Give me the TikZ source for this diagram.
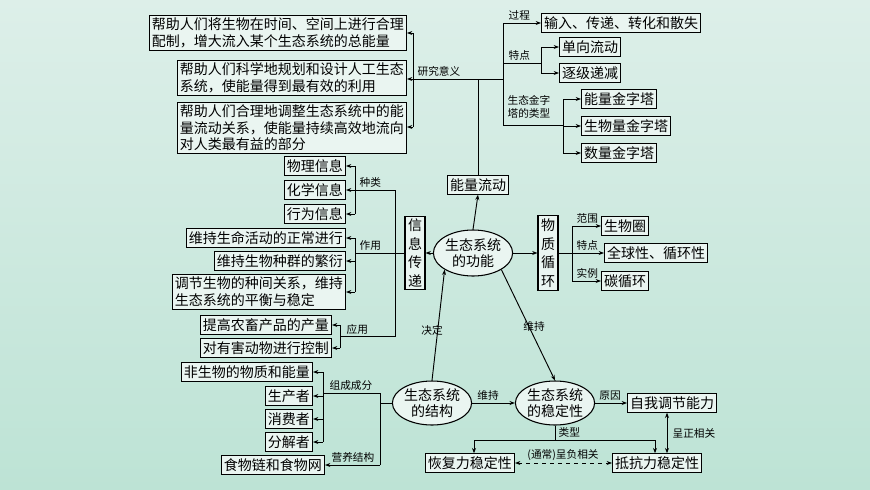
\documentclass[tikz,border=0pt]{standalone}
\usepackage{fontspec}
\setmainfont{Noto Sans CJK SC}
\usetikzlibrary{arrows.meta,shapes.geometric}
\definecolor{bgt}{HTML}{DDEFE9}
\definecolor{bgb}{HTML}{BDE3D5}
\definecolor{bx}{HTML}{EAF5F1}
\tikzset{
 bx/.style={draw,line width=0.8pt,fill=bx,inner sep=2pt,font=\fontsize{10.5}{12.5}\selectfont,align=left},
 vbx/.style={draw,line width=0.8pt,fill=bx,inner sep=2pt,font=\fontsize{10.5}{14}\selectfont,align=center,text width=11pt},
 ell/.style={draw,line width=0.8pt,ellipse,fill=bx,inner sep=0pt,font=\fontsize{10.5}{12.5}\selectfont,align=center},
 lab/.style={font=\fontsize{8}{9.5}\selectfont,inner sep=1pt,align=left},
 arr/.style={-{Stealth[length=4pt,width=3pt]},line width=0.7pt},
 darr/.style={{Stealth[length=4pt,width=3pt]}-{Stealth[length=4pt,width=3pt]},line width=0.7pt},
 ln/.style={line width=0.7pt},
}
\begin{document}
\begin{tikzpicture}[x=0.75pt,y=-0.75pt]
\shade[top color=bgt,bottom color=bgb] (0,0) rectangle (870,489);
\useasboundingbox (0,0) rectangle (870,489);
\node[bx,text width=189pt,anchor=east] (b1) at (407,33) {帮助人们将生物在时间、空间上进行合理\\配制，增大流入某个生态系统的总能量};
\node[bx,text width=168pt,anchor=east] (b2) at (407,78) {帮助人们科学地规划和设计人工生态\\系统，使能量得到最有效的利用};
\node[bx,text width=168pt,anchor=east] (b3) at (407,128) {帮助人们合理地调整生态系统中的能\\量流动关系，使能量持续高效地流向\\对人类最有益的部分};
\draw[ln] (413,33) -- (413,127);
\draw[arr] (413,33) -- (b1.east |- 413,33);
\draw[arr] (413,79) -- (b2.east |- 413,79);
\draw[arr] (413,127) -- (b3.east |- 413,127);
\draw[ln] (413,79) -- (503,79);
\node[lab,anchor=south west] at (416,78) {研究意义};
\node[bx] (ef) at (478,185) {能量流动};
\draw[ln] (478,79) -- (ef.north);
\draw[ln] (503,23) -- (503,125);
\node[bx,anchor=west] (p1) at (541,23) {输入、传递、转化和散失};
\node[bx,anchor=west] (t1) at (559,47) {单向流动};
\node[bx,anchor=west] (t2) at (559,73) {逐级递减};
\node[bx,anchor=west] (j1) at (581,99) {能量金字塔};
\node[bx,anchor=west] (j2) at (581,126) {生物量金字塔};
\node[bx,anchor=west] (j3) at (581,153) {数量金字塔};
\draw[arr] (503,23) -- (p1.west);
\node[lab,anchor=south west] at (507,22) {过程};
\draw[ln] (503,63) -- (541,63) (541,47) -- (541,73);
\node[lab,anchor=south west] at (507,62) {特点};
\draw[arr] (541,47) -- (t1.west);
\draw[arr] (541,73) -- (t2.west);
\draw[ln] (503,125) -- (563,125) (563,99) -- (563,153);
\node[lab,anchor=west] at (506,107) {生态金字\\塔的类型};
\draw[arr] (563,99) -- (j1.west);
\draw[arr] (563,126) -- (j2.west);
\draw[arr] (563,153) -- (j3.west);
\node[ell,minimum height=46*0.75pt,minimum width=66*0.75pt] (fn) at (473,253) {生态系统\\的功能};
\draw[arr] (fn.north) -- (ef.south);
\node[vbx] (xx) at (415,253) {信\\息\\传\\递};
\draw[arr] (fn.west) -- (xx.east);
\draw[ln] (xx.west) -- (355,253);
\node[lab,anchor=south west] at (358,252) {作用};
\draw[ln] (355,238) -- (355,292);
\node[bx,anchor=east] (z1) at (346,238) {维持生命活动的正常进行};
\node[bx,anchor=east] (z2) at (346,261) {维持生物种群的繁衍};
\node[bx,anchor=east] (z3) at (346,292) {调节生物的种间关系，维持\\生态系统的平衡与稳定};
\draw[arr] (355,238) -- (z1.east |- 355,238);
\draw[arr] (355,261) -- (z2.east |- 355,261);
\draw[arr] (355,292) -- (z3.east |- 355,292);
\draw[ln] (355,190) -- (395,190) -- (395,336) -- (340,336);
\draw[ln] (355,166) -- (355,214);
\node[lab,anchor=south west] at (358,189) {种类};
\node[bx,anchor=east] (s1) at (346,166) {物理信息};
\node[bx,anchor=east] (s2) at (346,190) {化学信息};
\node[bx,anchor=east] (s3) at (346,214) {行为信息};
\draw[arr] (355,166) -- (s1.east);
\draw[arr] (355,190) -- (s2.east);
\draw[arr] (355,214) -- (s3.east);
\draw[ln] (340,325) -- (340,348);
\node[lab,anchor=south west] at (345,336) {应用};
\node[bx,anchor=east] (y1) at (332,325) {提高农畜产品的产量};
\node[bx,anchor=east] (y2) at (332,348) {对有害动物进行控制};
\draw[arr] (340,325) -- (y1.east);
\draw[arr] (340,348) -- (y2.east);
\node[vbx] (wz) at (548,253) {物\\质\\循\\环};
\draw[arr] (fn.east) -- (wz.west);
\draw[ln] (wz.east) -- (572,253) (572,226) -- (572,281);
\node[bx,anchor=west] (m1) at (601,226) {生物圈};
\node[bx,anchor=west] (m2) at (604,253) {全球性、循环性};
\node[bx,anchor=west] (m3) at (601,281) {碳循环};
\draw[arr] (572,226) -- (m1.west);
\draw[arr] (572,253) -- (m2.west);
\draw[arr] (572,281) -- (m3.west);
\node[lab,anchor=south west] at (575,225) {范围};
\node[lab,anchor=south west] at (575,252) {特点};
\node[lab,anchor=south west] at (575,280) {实例};
\node[ell,minimum height=44*0.75pt,minimum width=72*0.75pt] (st) at (432,403) {生态系统\\的结构};
\node[ell,minimum height=44*0.75pt,minimum width=74*0.75pt] (wd) at (555,403) {生态系统\\的稳定性};
\draw[arr] (st.east) -- (wd.west);
\node[lab,anchor=south] at (488,402) {维持};
\draw[arr] (st.north) -- (fn.south west);
\node[lab] at (432,330) {决定};
\draw[arr] (fn.south east) -- (wd.north);
\node[lab] at (534,326) {维持};
\node[bx,anchor=west] (zw) at (627,403) {自我调节能力};
\draw[arr] (wd.east) -- (zw.west);
\node[lab,anchor=south] at (610,402) {原因};
\node[bx,anchor=east] (hf) at (515,463) {恢复力稳定性};
\node[bx,anchor=west] (dk) at (612,463) {抵抗力稳定性};
\draw[darr] (zw.south -| 667,0) -- (dk.north -| 667,0);
\node[lab,anchor=west] at (671,433) {呈正相关};
\draw[ln] (wd.south) -- (555,440);
\draw[ln] (474,440) -- (655,440);
\draw[arr] (474,440) -- (hf.north -| 474,0);
\draw[arr] (655,440) -- (dk.north -| 655,0);
\node[lab,anchor=south west] at (557,439) {类型};
\draw[darr,dashed] (hf.east) -- (dk.west);
\node[lab,anchor=south] at (563,462) {(通常)呈负相关};
\draw[ln] (st.west) -- (380,403);
\draw[ln] (323,393) -- (380,393) (380,393) -- (380,465);
\draw[ln] (323,372) -- (323,442);
\node[lab,anchor=south west] at (328,392) {组成成分};
\node[bx,anchor=east] (c1) at (313,372) {非生物的物质和能量};
\node[bx,anchor=east] (c2) at (313,396) {生产者};
\node[bx,anchor=east] (c3) at (313,419) {消费者};
\node[bx,anchor=east] (c4) at (313,442) {分解者};
\draw[arr] (323,372) -- (c1.east);
\draw[arr] (323,396) -- (c2.east);
\draw[arr] (323,419) -- (c3.east);
\draw[arr] (323,442) -- (c4.east);
\node[bx,anchor=east] (c5) at (325,465) {食物链和食物网};
\draw[arr] (380,465) -- (c5.east);
\node[lab,anchor=south west] at (330,464) {营养结构};
\end{tikzpicture}
\end{document}
